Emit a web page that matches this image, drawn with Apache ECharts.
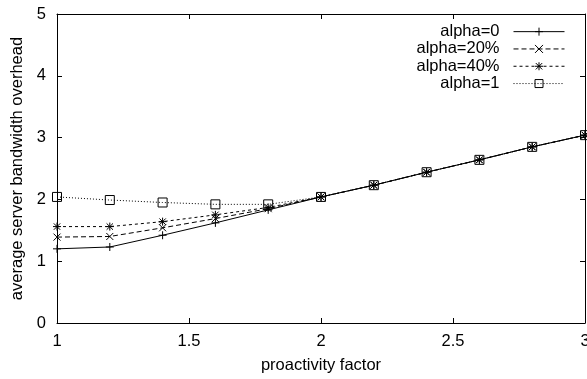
<!DOCTYPE html>
<html><head><meta charset="utf-8">
<script src="https://cdn.jsdelivr.net/npm/echarts@6/dist/echarts.min.js"></script>
<style>html,body{margin:0;padding:0;background:#fff}#c{width:587px;height:379px}</style>
</head><body><div id="c"></div>
<script>
const xValues = [1, 1.2, 1.4, 1.6, 1.8, 2, 2.2, 2.4, 2.6, 2.8, 3];
const alpha0   = [1.20, 1.23, 1.42, 1.62, 1.83, 2.04, 2.23, 2.44, 2.64, 2.85, 3.04];
const alpha20  = [1.39, 1.40, 1.54, 1.69, 1.85, 2.04, 2.23, 2.44, 2.64, 2.85, 3.04];
const alpha40  = [1.56, 1.56, 1.64, 1.75, 1.87, 2.04, 2.23, 2.44, 2.64, 2.85, 3.04];
const alpha1   = [2.04, 1.99, 1.95, 1.92, 1.92, 2.04, 2.23, 2.44, 2.64, 2.85, 3.04];
const seriesNames = ['alpha=0', 'alpha=20%', 'alpha=40%', 'alpha=1'];
const xTicks = [1, 1.5, 2, 2.5, 3];
const yTicks = [0, 1, 2, 3, 4, 5];

const FONT = 'Liberation Sans';
const FS = 16.5;
const pair = arr => xValues.map((x, i) => [x, arr[i]]);

const symPlus = 'path://M5,0L5,10M0,5L10,5';
const symCross = 'path://M0,0L10,10M10,0L0,10';
const symStar = 'path://M5,0L5,10M0,5L10,5M1,1L9,9M9,1L1,9';
const symSquare = 'path://M0,0L10,0L10,10L0,10Z';

function mk(name, data, symbol, size, dash, fill) {
  return {
    name, type: 'line', data: pair(data), symbol, symbolSize: size,
    showAllSymbol: true,
    lineStyle: { color: '#000', width: 1, type: dash },
    itemStyle: { color: fill, borderColor: '#000', borderWidth: 1 },
    emphasis: { disabled: true }
  };
}

const chart = echarts.init(document.getElementById('c'), null, { renderer: 'canvas' });
chart.setOption({
  animation: false,
  textStyle: { fontFamily: FONT },
  grid: { left: 57, right: 2, top: 14, bottom: 56, containLabel: false, outerBoundsMode: 'none' },
  legend: {
    orient: 'vertical', align: 'right', right: 22, top: 23, padding: 0,
    itemWidth: 51, itemHeight: 10, itemGap: 0,
    lineStyle: { width: 1 },
    itemStyle: { borderWidth: 1 },
    textStyle: { fontFamily: FONT, fontSize: FS, color: '#000', lineHeight: 17.3, padding: [0, 9, 0, 0] },
    data: seriesNames
  },
  xAxis: [{
    type: 'value', min: 1, max: 3, interval: 0.5,
    name: 'proactivity factor', nameLocation: 'middle', nameGap: 34,
    nameTextStyle: { fontFamily: FONT, fontSize: FS, color: '#000' },
    axisLine: { show: true, lineStyle: { color: '#000', width: 1 } },
    axisTick: { show: true, inside: true, length: 5, lineStyle: { color: '#000' } },
    axisLabel: { fontFamily: FONT, fontSize: FS, color: '#000', margin: 10,
      formatter: v => xTicks.includes(v) ? String(v) : '' },
    splitLine: { show: false }
  }, {
    type: 'value', position: 'top', min: 1, max: 3, interval: 0.5,
    axisLine: { show: true, onZero: false, lineStyle: { color: '#000', width: 1 } },
    axisTick: { show: true, inside: true, length: 5, lineStyle: { color: '#000' } },
    axisLabel: { show: false }, splitLine: { show: false }
  }],
  yAxis: [{
    type: 'value', min: 0, max: 5, interval: 1,
    name: 'average server bandwidth overhead', nameLocation: 'middle', nameGap: 31,
    nameTextStyle: { fontFamily: FONT, fontSize: FS, color: '#000' },
    axisLine: { show: true, lineStyle: { color: '#000', width: 1 } },
    axisTick: { show: true, inside: true, length: 5, lineStyle: { color: '#000' } },
    axisLabel: { fontFamily: FONT, fontSize: FS, color: '#000', margin: 11,
      formatter: v => yTicks.includes(v) ? String(v) : '' },
    splitLine: { show: false }
  }, {
    type: 'value', position: 'right', min: 0, max: 5, interval: 1,
    axisLine: { show: true, onZero: false, lineStyle: { color: '#000', width: 1 } },
    axisTick: { show: true, inside: true, length: 5, lineStyle: { color: '#000' } },
    axisLabel: { show: false }, splitLine: { show: false }
  }],
  series: [
    mk(seriesNames[0], alpha0, symPlus, 8, 'solid', '#000'),
    mk(seriesNames[1], alpha20, symCross, 7, [5, 3], '#000'),
    mk(seriesNames[2], alpha40, symStar, 8, [3, 3], '#000'),
    mk(seriesNames[3], alpha1, symSquare, 9, [1, 2], 'rgba(0,0,0,0)')
  ]
});
</script></body></html>
